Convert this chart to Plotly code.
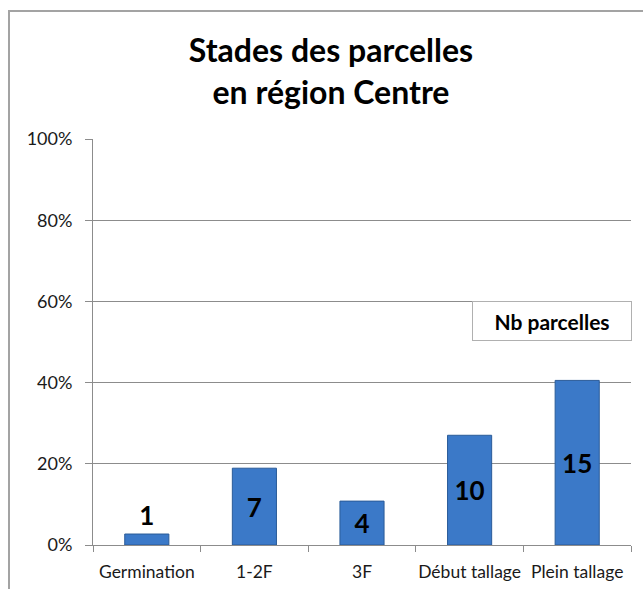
import plotly.graph_objects as go

categories = ["Germination", "1-2F", "3F", "Début tallage", "Plein tallage"]
counts = [1, 7, 4, 10, 15]
series_name = "Nb parcelles"
title_text = "Stades des parcelles<br>en région Centre"
y_ticks = [0, 0.2, 0.4, 0.6, 0.8, 1.0]

total = sum(counts)
shares = [c / total for c in counts]

W, H = 643, 589
L, R, T, B = 93, 12, 139, 44
pw, ph = W - L - R, H - T - B

def px_x(x):
    return (x - L) / pw

def px_y(y):
    return (H - B - y) / ph

FONT = "Lato, Carlito, Calibri, sans-serif"

positions = ["outside" if s < 0.05 else "inside" for s in shares]
label_font = dict(family=FONT, size=26, color="black", weight="bold")

fig = go.Figure(go.Bar(
    x=categories, y=shares, name=series_name,
    text=[str(c) for c in counts],
    textposition=positions,
    insidetextanchor="middle",
    textangle=0,
    textfont=label_font,
    outsidetextfont=label_font,
    insidetextfont=label_font,
    cliponaxis=False,
    marker=dict(color="#3b79c8", line=dict(color="#2a5b98", width=1)),
    hoverinfo="skip",
))

fig.update_layout(
    width=W, height=H,
    margin=dict(l=L, r=R, t=T, b=B, pad=0, autoexpand=False),
    paper_bgcolor="white", plot_bgcolor="white",
    bargap=0.59,
    showlegend=False,
    uniformtext=dict(mode=False),
    font=dict(family=FONT, size=18, color="#222"),
    title=dict(text=title_text, x=331 / W, xref="container", xanchor="center",
               y=1 - 62 / H, yref="container", yanchor="middle", automargin=False,
               font=dict(family=FONT, size=32, color="black", weight="bold")),
)

fig.update_xaxes(
    showline=True, linecolor="#8c8c8c", linewidth=1,
    ticks="outside", ticklen=6, tickcolor="#8c8c8c", tickson="boundaries",
    tickfont=dict(family=FONT, size=17.5, color="#1a1a1a"),
    tickangle=0, automargin=False,
    ticklabelstandoff=11,
    showgrid=False, fixedrange=True,
)
fig.update_yaxes(
    range=[0, 1], tickvals=y_ticks, tickformat=".0%",
    showline=True, linecolor="#8c8c8c", linewidth=1,
    ticks="outside", ticklen=7, tickcolor="#8c8c8c",
    ticklabelstandoff=9, automargin=False,
    showgrid=True, gridcolor="#8c8c8c", gridwidth=1,
    tickfont=dict(family=FONT, size=18, color="#1a1a1a"),
    zeroline=False, fixedrange=True,
)

# Legend-like box
fig.add_annotation(
    xref="paper", yref="paper",
    x=px_x(552), y=px_y(321),
    text="<b>" + series_name + "</b>",
    showarrow=False,
    font=dict(family=FONT, size=21, color="black"),
    bgcolor="white", bordercolor="#b0b0b0", borderwidth=1,
    width=154, height=34, borderpad=2,
    xanchor="center", yanchor="middle",
)

# Outer chart frame
fig.add_shape(
    type="path", xref="paper", yref="paper",
    path=f"M {px_x(9)} {px_y(600)} L {px_x(9)} {px_y(11)} L {px_x(660)} {px_y(11)}",
    line=dict(color="#a3a3a3", width=2),
    layer="above",
)

fig.write_html("out.html", config={"displayModeBar": False},
               post_script="document.body.style.margin='0';")
